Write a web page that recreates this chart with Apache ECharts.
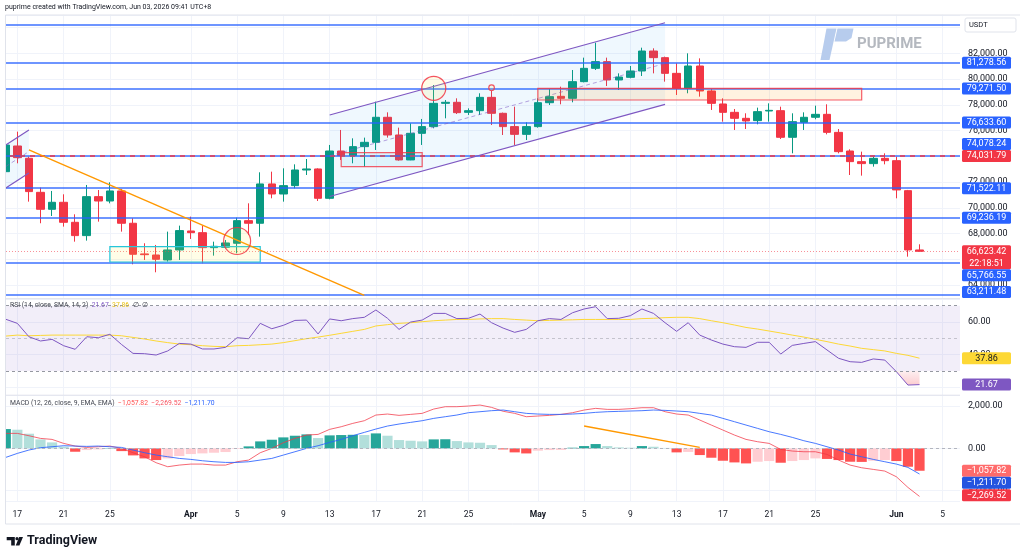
<!DOCTYPE html>
<html>
<head>
<meta charset="utf-8">
<title>BTCUSDT daily</title>
<script src="https://cdn.jsdelivr.net/npm/echarts@6/dist/echarts.min.js"></script>
<style>
html, body { margin: 0; padding: 0; background: #fff; }
#chart { width: 1024px; height: 558px; }
</style>
</head>
<body>
<div id="chart"></div>
<script>
// categories: one per day, 16 Mar .. 6 Jun 2026 (last three days empty)
const dates = [];
for (let i = 0; i < 83; i++) {
    dates.push(new Date(Date.UTC(2026, 2, 16 + i)).toISOString().slice(0, 10));
}
const months = ['Jan', 'Feb', 'Mar', 'Apr', 'May', 'Jun', 'Jul', 'Aug', 'Sep', 'Oct', 'Nov', 'Dec'];
const labelDays = [1, 5, 9, 13, 17, 21, 25];

// daily candles [open, high, low, close]
const candles = [
    [72810, 74900, 72290, 74880], [74805, 75920, 73460, 73900], [73850, 73980, 70480, 71260],
    [71205, 71570, 68800, 69885], [69885, 71310, 69365, 70430], [70430, 71050, 68540, 68875],
    [68875, 69495, 67370, 67840], [67840, 71775, 67450, 70870], [70870, 71385, 68925, 70530],
    [70530, 71980, 70350, 71310], [71310, 71465, 68150, 68800], [68800, 69185, 65610, 66390],
    [66420, 67245, 65950, 66360], [66335, 67115, 64990, 66000], [65950, 68150, 65820, 66725],
    [66725, 68615, 65950, 68230], [68200, 69315, 67580, 68070], [68070, 68615, 65690, 66905],
    [66905, 67370, 66285, 67010], [66930, 67500, 66855, 67270], [67245, 69235, 66465, 69005],
    [69005, 70350, 67890, 68800], [68800, 72760, 67760, 71855], [71855, 72810, 70740, 71075],
    [71075, 73070, 70480, 71725], [71725, 73380, 71515, 72940], [72940, 73795, 72550, 73020],
    [73020, 73070, 70530, 70740], [70740, 74885, 70660, 74415], [74415, 76050, 73720, 74055],
    [74055, 75400, 73460, 74755], [74755, 75455, 73200, 75090], [75090, 78250, 74495, 77035],
    [77035, 77420, 75455, 75660], [75660, 76230, 73665, 73720], [73720, 76565, 73700, 75790],
    [75790, 76905, 74885, 76310], [76310, 79545, 76180, 78120], [78120, 78380, 76955, 78200],
    [78200, 78510, 77290, 77395], [77420, 77730, 77215, 77550], [77550, 78900, 77215, 78585],
    [78585, 79080, 76435, 77345], [77345, 77400, 75660, 76310], [76310, 77860, 74885, 75710],
    [75710, 76645, 75270, 76310], [76310, 78510, 76230, 78170], [78170, 79235, 77990, 78640],
    [78665, 79415, 78045, 78510], [78510, 80710, 78200, 79805], [79805, 81670, 79750, 80840],
    [80840, 82835, 80710, 81360], [81360, 81670, 79465, 79935], [79935, 80450, 79155, 80165],
    [80140, 81020, 80065, 80635], [80635, 82445, 80245, 82185], [82185, 82395, 80450, 81670],
    [81670, 81750, 79805, 80450], [80450, 81230, 78770, 79285], [79285, 82005, 78900, 81020],
    [81020, 81615, 78640, 79080], [79080, 79235, 77605, 78120], [78070, 78510, 76695, 77420],
    [77420, 77680, 76050, 76955], [76955, 77345, 76125, 76750], [76775, 77785, 76490, 77475],
    [77525, 78120, 76695, 77575], [77550, 77860, 75350, 75480], [75480, 77345, 74235, 76695],
    [76645, 77420, 76050, 77035], [77035, 77940, 76880, 77265], [77265, 78045, 75710, 75865],
    [75865, 76125, 74235, 74365], [74415, 74545, 72550, 73590], [73590, 74365, 72500, 73435],
    [73435, 73975, 73200, 73845], [73845, 74235, 73380, 73665], [73665, 73975, 70740, 71390],
    [71335, 71390, 66205, 66725], [66725, 67165, 66595, 66623.42]
];

// horizontal levels drawn on the price pane
const blueLevels = [84207, 81278.56, 79271.50, 76633.60, 74078.24, 71522.11, 69236.19, 65766.55, 63211.48];
const taggedLevels = [81278.56, 79271.50, 76633.60, 74078.24, 71522.11, 69236.19, 65766.55, 63211.48];
const dashedLevel = 74031.79;
const lastPrice = 66623.42;
const countdown = '22:18:51';

// RSI (14) and its SMA (14)
const rsiValues = [
    61.7, 59.2, 51.0, 48.4, 49.4, 45.5, 43.3, 51.0, 50.4, 52.5,
    46.3, 40.8, 40.6, 39.8, 42.3, 46.9, 46.5, 43.5, 43.5, 44.5,
    50.4, 49.8, 59.2, 55.9, 58.0, 61.0, 61.2, 52.7, 61.9, 60.8,
    62.1, 62.9, 67.4, 62.3, 55.5, 60.0, 61.2, 65.3, 65.3, 62.1,
    62.3, 64.9, 59.6, 56.3, 53.7, 55.5, 60.8, 62.1, 61.6, 65.7,
    68.0, 69.4, 62.1, 62.3, 63.9, 68.0, 65.3, 59.6, 54.3, 59.6,
    52.0, 49.0, 46.5, 44.9, 44.5, 47.6, 47.6, 40.4, 45.7, 46.9,
    48.0, 42.9, 37.8, 35.7, 35.3, 37.4, 36.7, 29.6, 21.4, 21.67
];
const rsiMa = [
    51.4, 52.0, 51.6, 51.8, 52.0, 52.0, 52.0, 52.0, 52.0, 52.0,
    51.6, 50.6, 49.6, 48.4, 47.4, 46.5, 46.1, 45.5, 45.1, 44.9,
    45.5, 45.7, 46.1, 46.5, 47.4, 48.6, 49.8, 50.8, 51.9, 53.1,
    54.3, 55.5, 57.6, 58.4, 59.2, 59.6, 60.2, 60.8, 61.2, 61.6,
    61.6, 61.9, 62.1, 62.1, 61.6, 61.2, 60.8, 61.0, 61.2, 61.4,
    61.6, 61.6, 61.6, 61.6, 61.6, 62.1, 62.3, 62.7, 62.9, 62.9,
    62.1, 60.8, 59.6, 58.2, 56.7, 55.7, 54.5, 53.3, 52.0, 50.8,
    49.4, 48.0, 46.5, 45.3, 43.9, 43.1, 42.3, 40.8, 39.6, 37.86
];

// MACD (12, 26, 9)
const histValues = [
    911, 880, 691, 423, 281, 76, -160, -80, -50, 15,
    -130, -333, -475, -553, -475, -364, -270, -238, -207, -175,
    -30, 93, 329, 407, 518, 596, 659, 486, 612, 628,
    640, 628, 706, 596, 392, 360, 329, 423, 430, 344,
    281, 265, 155, -50, -190, -240, -110, -80, -75, 30,
    108, 203, 108, 45, 30, 108, 76, 20, -190, -170,
    -317, -443, -585, -664, -711, -632, -600, -679, -600, -553,
    -475, -500, -553, -632, -640, -585, -553, -600, -868, -1057.82
];
const macdLine = [
    707, 707, 596, 470, 423, 234, 108, 45, 76, 108,
    -2, -207, -396, -679, -868, -790, -743, -743, -790, -790,
    -632, -553, -207, -2, 266, 470, 628, 659, 896, 1021,
    1179, 1305, 1573, 1620, 1557, 1604, 1652, 1856, 1967, 1967,
    1998, 2045, 1935, 1750, 1652, 1494, 1526, 1557, 1604, 1683,
    1809, 1888, 1840, 1840, 1872, 1919, 1919, 1730, 1620, 1573,
    1337, 1100, 864, 628, 423, 313, 234, -50, -128, -160,
    -160, -286, -553, -790, -916, -994, -1073, -1341, -1845, -2269.52
];
const signalLine = [
    -427, -238, -80, 30, 76, 124, 108, 93, 108, 76,
    45, -80, -207, -317, -396, -475, -522, -585, -632, -664,
    -664, -632, -553, -475, -317, -160, -2, 124, 281, 423,
    596, 754, 911, 1053, 1148, 1226, 1305, 1415, 1494, 1573,
    1683, 1730, 1778, 1809, 1730, 1652, 1620, 1604, 1604, 1620,
    1652, 1699, 1730, 1746, 1762, 1778, 1809, 1793, 1762, 1730,
    1652, 1573, 1415, 1258, 1100, 943, 785, 659, 518, 360,
    234, 76, -80, -270, -396, -522, -632, -743, -900, -1211.70
];

// chart drawings, anchored in [day index, price]
const channel = { upper: [[28, 77214], [57, 84385]], lower: [[28, 70880], [57, 78045]] };
const smallChannel = { upper: [[0, 74880], [2, 76045]], lower: [[0, 71540], [2, 72700]] };
const trendLine = [[2, 74495], [30.8, 63200]];
const baseZone = [[9, 66980], [22, 65790]];
const redBoxes = [
    { a: [29, 74285], b: [36, 73195], fill: 'rgba(0,188,212,0.07)' },
    { a: [46, 79290], b: [74, 78380], fill: 'rgba(255,152,0,0.12)' }
];
const circles = [
    { c: [20, 67420], r: 13.5 },
    { c: [37, 79290], r: 12 },
    { c: [42, 79335], r: 2.8 }
];
const macdDivergence = [[50, 1053], [60, 47]];

const FONT = 'Roboto, "Liberation Sans", sans-serif';
const UP = '#089981', DOWN = '#f23645', BLUE = '#2962ff', TXT = '#131722';

function fmt(v) {
    const s = Math.abs(v).toFixed(2).split('.');
    return (v < 0 ? '\u2212' : '') + s[0].replace(/\B(?=(\d{3})+(?!\d))/g, ',') + '.' + s[1];
}

function isLabelDay(index, value) {
    return labelDays.indexOf(Number(String(value).slice(8))) >= 0;
}

function dateLabel(value) {
    const m = Number(value.slice(5, 7)), d = Number(value.slice(8));
    return d === 1 ? '{m|' + months[m - 1] + '}' : String(d);
}

function histColor(i) {
    const v = histValues[i], prev = i > 0 ? histValues[i - 1] : -Infinity;
    if (v >= 0) return prev < v ? '#26a69a' : '#b2dfdb';
    return prev < v ? '#ffcdd2' : '#ff5252';
}

let myChart = echarts.init(document.getElementById('chart'));

const xAxes = [0, 1, 2].map(g => ({
    type: 'category',
    gridIndex: g,
    data: dates,
    boundaryGap: true,
    axisLine: { show: false },
    axisTick: { show: false },
    axisLabel: g === 2 ? {
        interval: isLabelDay,
        formatter: dateLabel,
        color: TXT,
        fontSize: 8.5,
        fontFamily: FONT,
        margin: 9,
        rich: { m: { fontSize: 8.5, fontWeight: 'bold', color: TXT, fontFamily: FONT } }
    } : { show: false },
    splitLine: { show: true, interval: isLabelDay, alignWithLabel: true, lineStyle: { color: '#f0f3fa', width: 1 } }
}));

function yAxis(g, min, max, split) {
    return {
        type: 'value',
        gridIndex: g,
        position: 'right',
        min: min,
        max: max,
        splitNumber: split,
        axisLine: { show: false },
        axisTick: { show: false },
        axisLabel: {
            formatter: fmt, color: TXT, fontSize: 9, fontFamily: FONT, margin: 8,
            showMinLabel: false, showMaxLabel: false
        },
        splitLine: { lineStyle: { color: '#f0f3fa', width: 1 } }
    };
}

function renderDrawings(params, api) {
    const P = p => api.coord(p);
    const kids = [];
    const line = (a, b, stroke, w, dash) => kids.push({
        type: 'line', shape: { x1: a[0], y1: a[1], x2: b[0], y2: b[1] },
        style: { stroke: stroke, lineWidth: w, lineDash: dash || null, fill: null }
    });
    [smallChannel, channel].forEach(ch => {
        const u0 = P(ch.upper[0]), u1 = P(ch.upper[1]), l0 = P(ch.lower[0]), l1 = P(ch.lower[1]);
        kids.push({ type: 'polygon', shape: { points: [u0, u1, l1, l0] }, style: { fill: 'rgba(33,150,243,0.07)' } });
        line(u0, u1, '#7e57c2', 1.2);
        line(l0, l1, '#7e57c2', 1.2);
        line([(u0[0] + l0[0]) / 2, (u0[1] + l0[1]) / 2], [(u1[0] + l1[0]) / 2, (u1[1] + l1[1]) / 2],
            'rgba(126,87,194,0.55)', 1, [4, 3]);
    });
    const rect = (a, b, fill, stroke) => {
        const p = P(a), q = P(b);
        kids.push({
            type: 'rect',
            shape: { x: Math.min(p[0], q[0]), y: Math.min(p[1], q[1]), width: Math.abs(q[0] - p[0]), height: Math.abs(q[1] - p[1]) },
            style: { fill: fill, stroke: stroke, lineWidth: 1.2 }
        });
    };
    rect(baseZone[0], baseZone[1], 'rgba(255,235,59,0.12)', '#26c6da');
    redBoxes.forEach(b => rect(b.a, b.b, b.fill, 'rgba(242,54,69,0.8)'));
    line(P(trendLine[0]), P(trendLine[1]), '#ff9800', 1.4);
    circles.forEach(c => {
        const p = P(c.c);
        kids.push({ type: 'circle', shape: { cx: p[0], cy: p[1], r: c.r },
            style: { fill: 'rgba(255,235,59,0.12)', stroke: 'rgba(242,54,69,0.85)', lineWidth: 1.2 } });
    });
    return { type: 'group', children: kids };
}

function renderOversold(params, api) {
    const i = params.dataIndex;
    if (i >= rsiValues.length - 1) return null;
    const v0 = rsiValues[i], v1 = rsiValues[i + 1];
    if (v0 >= 30 && v1 >= 30) return null;
    const p0 = api.coord([i, v0]), p1 = api.coord([i + 1, v1]);
    const y30 = api.coord([i, 30])[1];
    let pts;
    if (v0 < 30 && v1 < 30) {
        pts = [p0, p1, [p1[0], y30], [p0[0], y30]];
    } else {
        const t = (30 - v0) / (v1 - v0);
        const xi = p0[0] + t * (p1[0] - p0[0]);
        pts = v0 >= 30 ? [[xi, y30], p1, [p1[0], y30]] : [p0, [xi, y30], [p0[0], y30]];
    }
    return {
        type: 'polygon', shape: { points: pts },
        style: {
            fill: new echarts.graphic.LinearGradient(0, 0, 0, 1, [
                { offset: 0, color: 'rgba(242,54,69,0.08)' },
                { offset: 1, color: 'rgba(242,54,69,0.25)' }
            ], false)
        }
    };
}

const noSym = ['none', 'none'];

const option = {
    animation: false,
    backgroundColor: '#ffffff',
    textStyle: { fontFamily: FONT },
    grid: [
        { left: 0, width: 960, top: 14.8, height: 283.1, outerBoundsMode: 'none' },
        { left: 0, width: 960, top: 299.2, height: 96.3, outerBoundsMode: 'none' },
        { left: 0, width: 960, top: 395.4, height: 105.9, outerBoundsMode: 'none' }
    ],
    xAxis: xAxes,
    yAxis: [
        yAxis(0, 63000, 85000, 11),
        yAxis(1, 15, 74, 3),
        yAxis(2, -2500, 2500, 3)
    ],
    series: [
        {
            name: 'price',
            type: 'candlestick',
            xAxisIndex: 0, yAxisIndex: 0,
            data: candles.map(c => [c[0], c[3], c[2], c[1]]),
            barWidth: 8,
            itemStyle: { color: UP, color0: DOWN, borderColor: UP, borderColor0: DOWN, borderWidth: 1 },
            markLine: {
                silent: true, symbol: noSym, label: { show: false }, animation: false,
                data: blueLevels.map(v => ({ yAxis: v, lineStyle: { color: BLUE, width: 1.5, type: 'solid', opacity: 0.9 } }))
                    .concat([
                        { yAxis: dashedLevel, lineStyle: { color: DOWN, width: 1.5, type: [5, 5] } },
                        { yAxis: lastPrice, lineStyle: { color: 'rgba(242,54,69,0.55)', width: 1, type: [1, 2] } }
                    ])
            }
        },
        {
            name: 'drawings',
            type: 'custom',
            xAxisIndex: 0, yAxisIndex: 0,
            z: 5, silent: true,
            data: [[0, 70000]],
            renderItem: renderDrawings
        },
        {
            name: 'RSI',
            type: 'line',
            xAxisIndex: 1, yAxisIndex: 1,
            data: rsiValues,
            symbol: 'none', z: 4,
            lineStyle: { color: '#7e57c2', width: 1 },
            markArea: { silent: true, itemStyle: { color: 'rgba(126,87,194,0.1)' }, data: [[{ yAxis: 30 }, { yAxis: 70 }]] },
            markLine: {
                silent: true, symbol: noSym, label: { show: false },
                lineStyle: { color: '#9598a1', type: [3, 3], width: 1 },
                data: [{ yAxis: 70 }, { yAxis: 50, lineStyle: { color: 'rgba(149,152,161,0.5)', type: [3, 3] } }, { yAxis: 30 }]
            }
        },
        {
            name: 'RSI MA',
            type: 'line',
            xAxisIndex: 1, yAxisIndex: 1,
            data: rsiMa,
            symbol: 'none', z: 3,
            lineStyle: { color: '#fdd835', width: 1 }
        },
        {
            name: 'oversold',
            type: 'custom',
            xAxisIndex: 1, yAxisIndex: 1,
            silent: true, z: 2,
            data: rsiValues.map((v, i) => [i, v]),
            renderItem: renderOversold
        },
        {
            name: 'Histogram',
            type: 'bar',
            xAxisIndex: 2, yAxisIndex: 2,
            data: histValues,
            barCategoryGap: '12%',
            itemStyle: { color: p => histColor(p.dataIndex) },
            markLine: {
                silent: true, symbol: noSym, label: { show: false },
                lineStyle: { color: '#b2b5be', type: [3, 3], width: 1 },
                data: [{ yAxis: 0 }]
            }
        },
        {
            name: 'MACD',
            type: 'line',
            xAxisIndex: 2, yAxisIndex: 2,
            data: macdLine,
            symbol: 'none', z: 4,
            lineStyle: { color: 'rgba(242,54,69,0.75)', width: 1 }
        },
        {
            name: 'Signal',
            type: 'line',
            xAxisIndex: 2, yAxisIndex: 2,
            data: signalLine,
            symbol: 'none', z: 4,
            lineStyle: { color: 'rgba(41,98,255,0.85)', width: 1 },
            markLine: {
                silent: true, symbol: noSym, label: { show: false },
                lineStyle: { color: '#ff9800', width: 1.4, type: 'solid' },
                data: [[{ coord: [dates[macdDivergence[0][0]], macdDivergence[0][1]] },
                        { coord: [dates[macdDivergence[1][0]], macdDivergence[1][1]] }]]
            }
        }
    ]
};

myChart.setOption(option);

// ---- price tags on the right scale, pushed apart like TradingView does ----
function yOf(g, v) {
    return myChart.convertToPixel({ gridIndex: g }, [0, v])[1];
}

function placeTags(list, top, bottom) {
    const placed = [];
    list.forEach(t => {
        const h = t.up + t.down;
        let a = t.y - t.up, b = t.y + t.down;
        if (!t.fixed) {
            for (let k = 0; k < 4; k++) {
                placed.forEach(p => {
                    if (a < p.b && b > p.a) {
                        if (t.y < (p.a + p.b) / 2) { b = p.a; a = b - h; } else { a = p.b; b = a + h; }
                    }
                });
            }
        }
        if (b > bottom) { b = bottom; a = b - h; }
        if (a < top) { a = top; b = a + h; }
        placed.push({ a: a, b: b, t: t });
    });
    return placed;
}

function tagElements(placed) {
    const els = [];
    placed.forEach(p => {
        els.push({
            type: 'rect', z: 60,
            shape: { x: 962, y: p.a, width: 49, height: p.b - p.a, r: 1.5 },
            style: { fill: p.t.bg }
        });
        p.t.lines.forEach((s, i) => {
            els.push({
                type: 'text', z: 61,
                style: {
                    text: s, x: 986.5, y: p.a + 6.2 + i * 12,
                    align: 'center', textAlign: 'center', verticalAlign: 'middle', textVerticalAlign: 'middle',
                    fill: p.t.fg || '#ffffff', fontSize: 9, fontFamily: FONT
                }
            });
        });
    });
    return els;
}

const mainTags = [
    { y: yOf(0, dashedLevel), up: 6, down: 6, fixed: true, bg: DOWN, lines: [fmt(dashedLevel)] },
    { y: yOf(0, lastPrice), up: 6, down: 18, fixed: true, bg: DOWN, lines: [fmt(lastPrice), countdown] }
].concat(taggedLevels.map(v => ({ y: yOf(0, v), up: 6, down: 6, bg: BLUE, lines: [fmt(v)] })));

const rsiTags = [
    { y: yOf(1, rsiMa[rsiMa.length - 1]), up: 6, down: 6, bg: '#fdd835', fg: TXT, lines: [fmt(rsiMa[rsiMa.length - 1])] },
    { y: yOf(1, rsiValues[rsiValues.length - 1]), up: 6, down: 6, bg: '#7e57c2', lines: [fmt(rsiValues[rsiValues.length - 1])] }
];

const macdTags = [
    { y: yOf(2, histValues[79]), up: 6, down: 6, bg: '#ff6b6b', lines: [fmt(histValues[79])] },
    { y: yOf(2, signalLine[79]), up: 6, down: 6, bg: '#2454e0', lines: [fmt(signalLine[79])] },
    { y: yOf(2, macdLine[79]), up: 6, down: 6, bg: DOWN, lines: [fmt(macdLine[79])] }
];

function txt(x, y, text, size, color, extra) {
    return {
        type: 'text', z: 70,
        style: Object.assign({
            text: text, x: x, y: y, fill: color, fontSize: size, fontFamily: FONT,
            verticalAlign: 'middle', textVerticalAlign: 'middle'
        }, extra || {})
    };
}

function hline(y, x1, x2) {
    return { type: 'line', z: 55, shape: { x1: x1, y1: y, x2: x2, y2: y }, style: { stroke: '#e0e3eb', lineWidth: 1 } };
}

const legendRich = {
    n: { fill: '#434651', fontSize: 6.8, fontFamily: FONT },
    p: { fill: '#7e57c2', fontSize: 6.8, fontFamily: FONT },
    y: { fill: '#e8c21a', fontSize: 6.8, fontFamily: FONT },
    r: { fill: '#ff5252', fontSize: 6.8, fontFamily: FONT },
    l: { fill: '#f7525f', fontSize: 6.8, fontFamily: FONT },
    b: { fill: '#2962ff', fontSize: 6.8, fontFamily: FONT }
};

const graphics = [
    // left edge mask and pane borders
    { type: 'rect', z: 55, shape: { x: 0, y: 14, width: 5.5, height: 512 }, style: { fill: '#ffffff' } },
    { type: 'line', z: 56, shape: { x1: 5.5, y1: 15, x2: 5.5, y2: 524 }, style: { stroke: '#e0e3eb', lineWidth: 1 } },
    hline(15, 5.5, 1020), hline(298.7, 5.5, 960), hline(395.2, 5.5, 960), hline(524, 5.5, 1020),
    // header
    txt(5, 7.5, 'puprime created with TradingView.com, Jun 03, 2026 09:41 UTC+8', 7, TXT),
    // currency box
    { type: 'rect', z: 65, shape: { x: 965, y: 18, width: 51, height: 14, r: 2 }, style: { fill: '#ffffff', stroke: '#e0e3eb', lineWidth: 1 } },
    txt(969, 25, 'USDT', 7.5, TXT),
    // watermark
    { type: 'polygon', z: 1, shape: { points: [[826.5, 28.5], [836.5, 28.5], [829.5, 60], [820.5, 60]] }, style: { fill: '#b7cced' } },
    { type: 'polygon', z: 1, shape: { points: [[837.5, 28.5], [853.5, 28.5], [851.5, 38], [846, 41.5], [834.5, 41.5]] }, style: { fill: '#b7cced' } },
    txt(857, 44, 'PUPRIME', 15, '#b4b8bf', { fontWeight: 'bold' }),
    // indicator legends
    txt(10, 305, '{n|RSI (14, close, SMA, 14, 2)}  {p|21.67}  {y|37.86}  {n|\u2205  \u2205}', 6.8, TXT, { rich: legendRich }),
    txt(10, 403, '{n|MACD (12, 26, close, 9, EMA, EMA)}  {r|\u22121,057.82}  {l|\u22122,269.52}  {b|\u22121,211.70}', 6.8, TXT, { rich: legendRich }),
    // TradingView logo
    { type: 'polygon', z: 70, shape: { points: [[6.7, 537], [14.8, 537], [14.8, 545.6], [11.2, 545.6], [11.2, 540.3], [6.7, 540.3]] }, style: { fill: TXT } },
    { type: 'circle', z: 70, shape: { cx: 17, cy: 538.7, r: 1.6 }, style: { fill: TXT } },
    { type: 'polygon', z: 70, shape: { points: [[19.2, 537], [23, 537], [19.4, 545.6], [15.7, 545.6]] }, style: { fill: TXT } },
    txt(27, 541.3, 'TradingView', 12.5, TXT, { fontWeight: 'bold' })
].concat(
    tagElements(placeTags(mainTags, 15, 298)),
    tagElements(placeTags(rsiTags, 299, 395)),
    tagElements(placeTags(macdTags, 395.5, 501.3))
);

myChart.setOption({ graphic: graphics });
</script>
</body>
</html>
